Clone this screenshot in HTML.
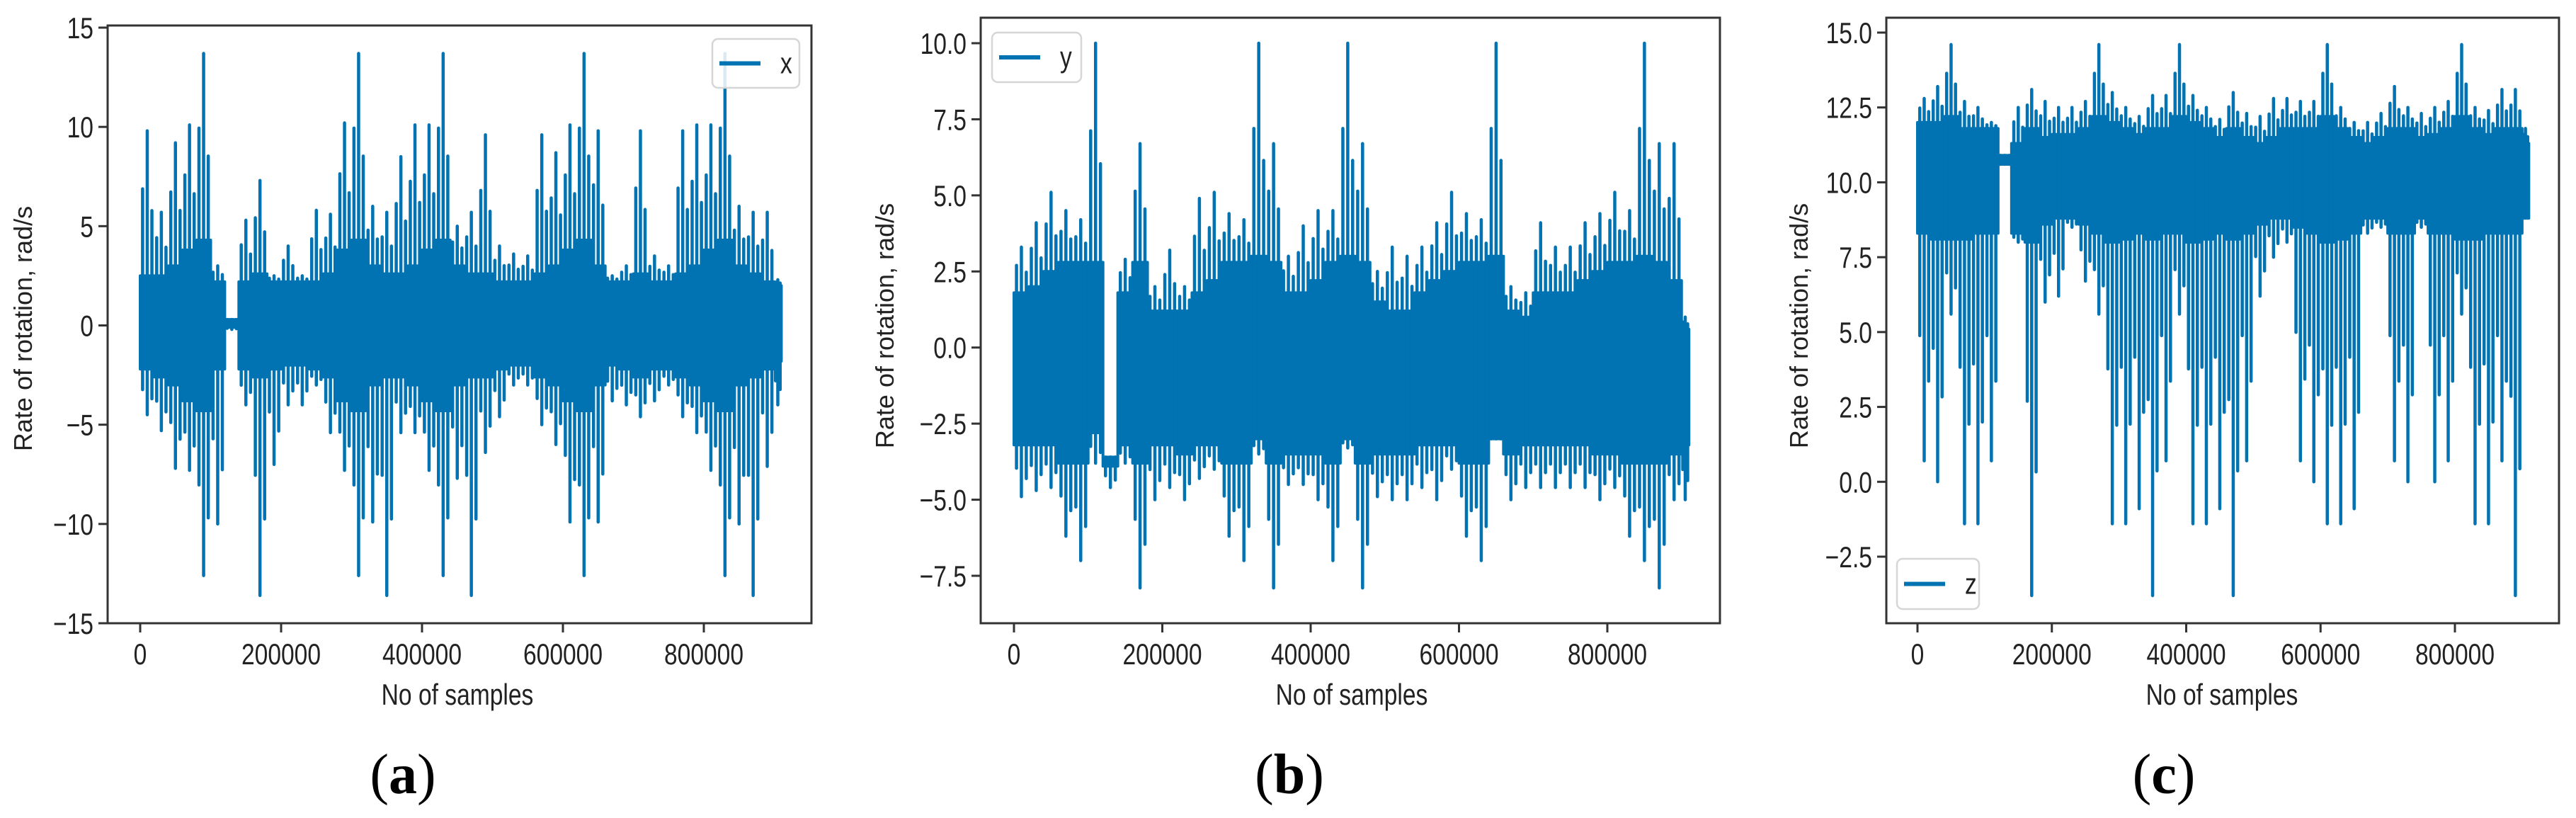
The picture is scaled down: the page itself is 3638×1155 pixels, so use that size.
<!DOCTYPE html>
<html><head><meta charset="utf-8"><style>
html,body{margin:0;padding:0;background:#fff;}
svg{display:block;}
text{font-family:"Liberation Sans","DejaVu Sans",sans-serif;fill:#222;}
.cap{font-family:"Liberation Serif",serif;fill:#000;}
</style></head><body>
<svg id="fig" width="3638" height="1155" viewBox="0 0 3638 1155" xmlns="http://www.w3.org/2000/svg"></svg>
<script>
// ---- data (bins of 20000 samples, 0..910000) ----
const binSize = 20000;
const sampleMax = 910000;
const xTicks = [0, 200000, 400000, 600000, 800000];
const xTickLabels = ["0","200000","400000","600000","800000"];

const xHi = [9.8,5.7,9.2,10.1,13.7,3.0,0.3,5.3,7.3,2.5,4.0,2.5,5.8,5.6,10.2,13.7,6.0,5.7,8.5,10.1,10.1,13.7,5.0,5.7,9.6,4.0,3.6,3.5,9.6,8.7,10.1,13.7,9.8,2.5,3.0,9.8,3.5,3.0,9.8,10.1,10.1,13.7,6.0,5.7,5.7,2.3];
const xLo = [-4.5,-5.3,-7.2,-7.3,-12.6,-10,-0.2,-4.0,-13.6,-7.0,-4.0,-4.0,-3.0,-5.4,-7.3,-12.6,-9.9,-13.6,-5.4,-5.4,-7.3,-12.6,-7.7,-13.6,-6.4,-4.6,-3.0,-3.0,-5.0,-6.0,-9.9,-12.6,-9.9,-3.8,-4.0,-4.6,-3.8,-3.0,-4.6,-5.4,-7.3,-12.6,-10,-13.6,-7.1,-4.0];
const xCoreHi = [2.5,2.5,3.0,3.8,4.3,2.2,0.3,2.2,2.6,2.2,2.2,2.2,2.2,2.6,3.8,4.3,3.0,2.6,2.6,3.0,3.8,4.3,3.0,2.6,2.6,2.2,2.2,2.2,2.6,3.0,3.8,4.3,3.0,2.2,2.2,2.6,2.2,2.2,2.6,3.0,3.8,4.3,3.0,2.6,2.2,2.0];
const xCoreLo = [-2.2,-2.6,-3.0,-3.8,-4.3,-2.2,-0.1,-2.2,-2.6,-2.2,-2.0,-2.0,-2.2,-2.6,-3.8,-4.3,-3.0,-2.6,-2.6,-3.0,-3.8,-4.3,-3.0,-2.6,-2.6,-2.2,-2.0,-2.0,-2.6,-3.0,-3.8,-4.3,-3.0,-2.0,-2.2,-2.6,-2.2,-2.2,-2.6,-3.0,-3.8,-4.3,-3.0,-2.6,-2.2,-1.8];

const yHi = [3.3,4.1,5.1,4.5,4.2,10.0,-3.6,2.9,6.7,2.0,3.2,2.0,4.9,5.1,4.4,4.2,10.0,6.7,3.0,4.0,4.5,4.5,10.0,6.7,2.5,3.3,3.0,3.3,4.1,5.1,4.4,4.2,10.0,2.0,1.8,4.1,3.3,3.3,4.1,4.4,5.1,4.5,10.0,6.7,6.7,1.0];
const yLo = [-4.9,-4.7,-4.6,-6.2,-7.0,-3.8,-4.6,-3.8,-7.9,-5.0,-4.6,-5.0,-4.3,-4.0,-6.2,-7.0,-3.5,-7.9,-4.5,-4.5,-5.0,-7.0,-3.3,-7.9,-4.9,-5.0,-5.0,-4.6,-5.0,-4.0,-6.2,-7.0,-3.0,-5.0,-4.6,-4.6,-4.6,-4.6,-4.6,-5.0,-4.6,-6.2,-7.0,-7.9,-5.0,-5.0];
const yCoreHi = [1.8,2.0,2.5,2.8,2.8,2.8,-3.6,1.8,2.8,1.2,1.2,1.2,1.8,2.2,2.8,2.8,3.0,2.8,1.8,1.8,2.2,2.8,3.0,2.8,1.5,1.2,1.2,1.8,2.2,2.5,2.8,2.8,3.0,1.2,1.0,1.8,1.8,1.8,2.2,2.5,2.8,2.8,3.0,2.8,2.2,0.6];
const yCoreLo = [-3.2,-3.2,-3.2,-3.8,-3.8,-2.8,-3.9,-3.2,-3.8,-3.2,-3.2,-3.5,-3.2,-3.2,-3.8,-3.8,-3.0,-3.8,-3.5,-3.5,-3.5,-3.8,-3.0,-3.8,-3.5,-3.5,-3.5,-3.2,-3.2,-3.2,-3.8,-3.8,-3.0,-3.5,-3.2,-3.2,-3.2,-3.2,-3.2,-3.5,-3.5,-3.8,-3.8,-3.8,-3.5,-3.2];

const zHi = [12.8,13.2,14.6,12.7,12.5,12.0,10.9,12.5,13.1,12.7,12.5,12.5,12.7,14.6,13.0,12.5,12.2,12.9,12.9,14.6,12.9,12.5,12.1,13.0,12.3,12.2,12.8,12.8,12.7,12.7,14.6,12.5,12.0,12.0,12.3,13.2,12.5,12.3,12.5,12.7,14.6,12.5,12.4,13.1,13.1,11.8];
const zLo = [0.7,0.0,5.6,-1.4,-1.4,0.7,10.6,8.0,-3.8,6.0,6.2,8.5,6.7,5.6,-1.4,-1.4,-0.9,-3.8,0.7,5.6,-1.4,-1.4,-0.9,-3.8,0.7,6.2,7.5,8.0,0.7,0.0,-1.4,-1.4,-0.9,8.3,8.5,0.7,0.0,8.5,0.0,0.7,5.6,-1.4,-1.4,0.7,-3.8,9.0];
const zCoreHi = [12.0,12.0,12.2,11.8,11.8,11.8,10.9,11.3,11.8,11.5,11.6,11.6,11.8,12.2,12.0,11.8,11.6,11.8,11.8,12.2,12.0,11.8,11.5,11.8,11.5,11.3,11.5,11.8,11.8,11.8,12.2,11.8,11.5,11.3,11.5,11.8,11.8,11.5,11.6,11.8,12.2,11.8,11.6,11.8,11.8,11.3];
const zCoreLo = [8.3,8.1,8.1,8.1,8.3,8.3,10.6,8.3,8.0,8.6,8.8,8.8,8.6,8.3,8.0,8.1,8.3,8.1,8.3,8.3,8.0,8.1,8.3,8.1,8.3,8.6,8.8,8.8,8.5,8.3,8.0,8.1,8.3,8.8,8.8,8.3,8.3,8.8,8.3,8.3,8.1,8.1,8.3,8.3,8.3,8.8];

const yTicksA = [-15,-10,-5,0,5,10,15];
const yTickLabelsA = ["\u221215","\u221210","\u22125","0","5","10","15"];
const yTicksB = [-7.5,-5,-2.5,0,2.5,5,7.5,10];
const yTickLabelsB = ["\u22127.5","\u22125.0","\u22122.5","0.0","2.5","5.0","7.5","10.0"];
const yTicksC = [-2.5,0,2.5,5,7.5,10,12.5,15];
const yTickLabelsC = ["\u22122.5","0.0","2.5","5.0","7.5","10.0","12.5","15.0"];

const NS="http://www.w3.org/2000/svg";
const svg=document.getElementById('fig');
const COLOR="#0173b2";
function mk(tag,attrs,parent){const e=document.createElementNS(NS,tag);for(const k in attrs)e.setAttribute(k,attrs[k]);(parent||svg).appendChild(e);return e;}

const spikeOffsets=[-0.33,0,0.33];
const spikeWeightsHi=[0.6,1,0.45];
const spikeWeightsLo=[0.45,1,0.65];

function drawPanel(p){
  const g=mk('g',{});
  
  
  const sx=v=>p.x0+(v/800000)*(p.x800-p.x0);
  const sy=v=>p.yA+(v-p.vA)/(p.vB-p.vA)*(p.yB-p.yA);
  const n=p.hi.length;
  const bs=i=>i*binSize;
  const be=i=>Math.min(sampleMax,(i+1)*binSize);
  const cx=i=>(bs(i)+be(i))/2;
  let top=[],bot=[];
  for(let i=0;i<n;i++){
    top.push([sx(bs(i)),sy(p.coreHi[i])],[sx(be(i)),sy(p.coreHi[i])]);
    bot.push([sx(bs(i)),sy(p.coreLo[i])],[sx(be(i)),sy(p.coreLo[i])]);
  }
  const pts=top.concat(bot.reverse());
  const band=mk('polygon',{points:pts.map(q=>q.join(',')).join(' '),fill:COLOR,stroke:COLOR,'stroke-width':4,'stroke-linejoin':'round'},g);
  
  
  for(let i=0;i<n;i++){
    const w=sx(be(i))-sx(bs(i));
    spikeOffsets.forEach((o,k)=>{
      const xc=sx(cx(i))+o*w;
      const h=p.coreHi[i]+(p.hi[i]-p.coreHi[i])*spikeWeightsHi[k];
      const lo=p.coreLo[i]+(p.lo[i]-p.coreLo[i])*spikeWeightsLo[k];
      const l=mk('line',{x1:xc,x2:xc,y1:sy(h),y2:sy(lo),stroke:COLOR,'stroke-width':4.5,'stroke-linecap':'round'},g);
      
      
    });
  }
  const fr=mk('rect',{x:p.L,y:p.T,width:p.R-p.L,height:p.B-p.T,fill:'none',stroke:'#333','stroke-width':3},g);
  
  
  xTicks.forEach((t,i)=>{
    const x=sx(t);
    const tk=mk('line',{x1:x,x2:x,y1:p.B,y2:p.B+13,stroke:'#333','stroke-width':3},g);
    
    
    const tx=mk('text',{transform:`translate(${x},${p.B+58}) scale(0.8,1)`,'text-anchor':'middle','font-size':42},g);
    tx.textContent=xTickLabels[i];
    
    
  });
  p.yt.forEach((t,i)=>{
    const y=sy(t);
    const tk=mk('line',{x1:p.L-13,x2:p.L,y1:y,y2:y,stroke:'#333','stroke-width':3},g);
    
    
    const tx=mk('text',{transform:`translate(${p.L-20},${y+15}) scale(0.8,1)`,'text-anchor':'end','font-size':42},g);
    tx.textContent=p.ytl[i];
    
    
  });
  const xl=mk('text',{transform:`translate(${p.xlX},${p.xlY}) scale(0.8,1)`,'text-anchor':'middle','font-size':42},g);
  xl.textContent='No of samples';
  
  
  const yl=mk('text',{transform:`translate(${p.ylX},${p.ylY}) rotate(-90)`,'text-anchor':'middle','font-size':36},g);
  yl.textContent='Rate of rotation, rad/s';
  
  
  const lg=mk('g',{},g);
  
  
  mk('rect',{x:p.lg[0],y:p.lg[1],width:p.lg[2]-p.lg[0],height:p.lg[3]-p.lg[1],rx:8,fill:'#fff','fill-opacity':0.85,stroke:'#d6d6d6','stroke-width':2.5},lg);
  const my=(p.lg[1]+p.lg[3])/2;
  mk('line',{x1:p.lg[0]+10,x2:p.lg[0]+68,y1:my,y2:my,stroke:COLOR,'stroke-width':6},lg);
  const lt=mk('text',{transform:`translate(${p.lg[0]+96},${my+14}) scale(0.8,1)`,'font-size':42},lg);
  lt.textContent=p.label;
  const cap=mk('text',{x:p.capX,y:1120,'text-anchor':'middle','font-size':80,class:'cap'},g);
  cap.innerHTML='(<tspan font-weight="bold">'+p.cap+'</tspan>)';
  
  
}

drawPanel({name:'panel-a-x',L:152,R:1146,T:36,B:880,x0:198,x800:994,yA:39,vA:15,yB:880,vB:-15,
  hi:xHi,lo:xLo,coreHi:xCoreHi,coreLo:xCoreLo,yt:yTicksA,ytl:yTickLabelsA,
  xlX:646,xlY:995,ylX:45,ylY:464,lg:[1006,55,1129,124],label:'x',cap:'a',capX:569});
drawPanel({name:'panel-b-y',L:1385,R:2429,T:25,B:880,x0:1432,x800:2270,yA:61,vA:10,yB:813,vB:-7.5,
  hi:yHi,lo:yLo,coreHi:yCoreHi,coreLo:yCoreLo,yt:yTicksB,ytl:yTickLabelsB,
  xlX:1909,xlY:995,ylX:1262,ylY:460,lg:[1401,46,1527,116],label:'y',cap:'b',capX:1821});
drawPanel({name:'panel-c-z',L:2664,R:3614,T:25,B:880,x0:2708,x800:3467,yA:46,vA:15,yB:786,vB:-2.5,
  hi:zHi,lo:zLo,coreHi:zCoreHi,coreLo:zCoreLo,yt:yTicksC,ytl:yTickLabelsC,
  xlX:3138,xlY:995,ylX:2553,ylY:460,lg:[2679,789,2795,860],label:'z',cap:'c',capX:3056});
</script>
</body></html>
